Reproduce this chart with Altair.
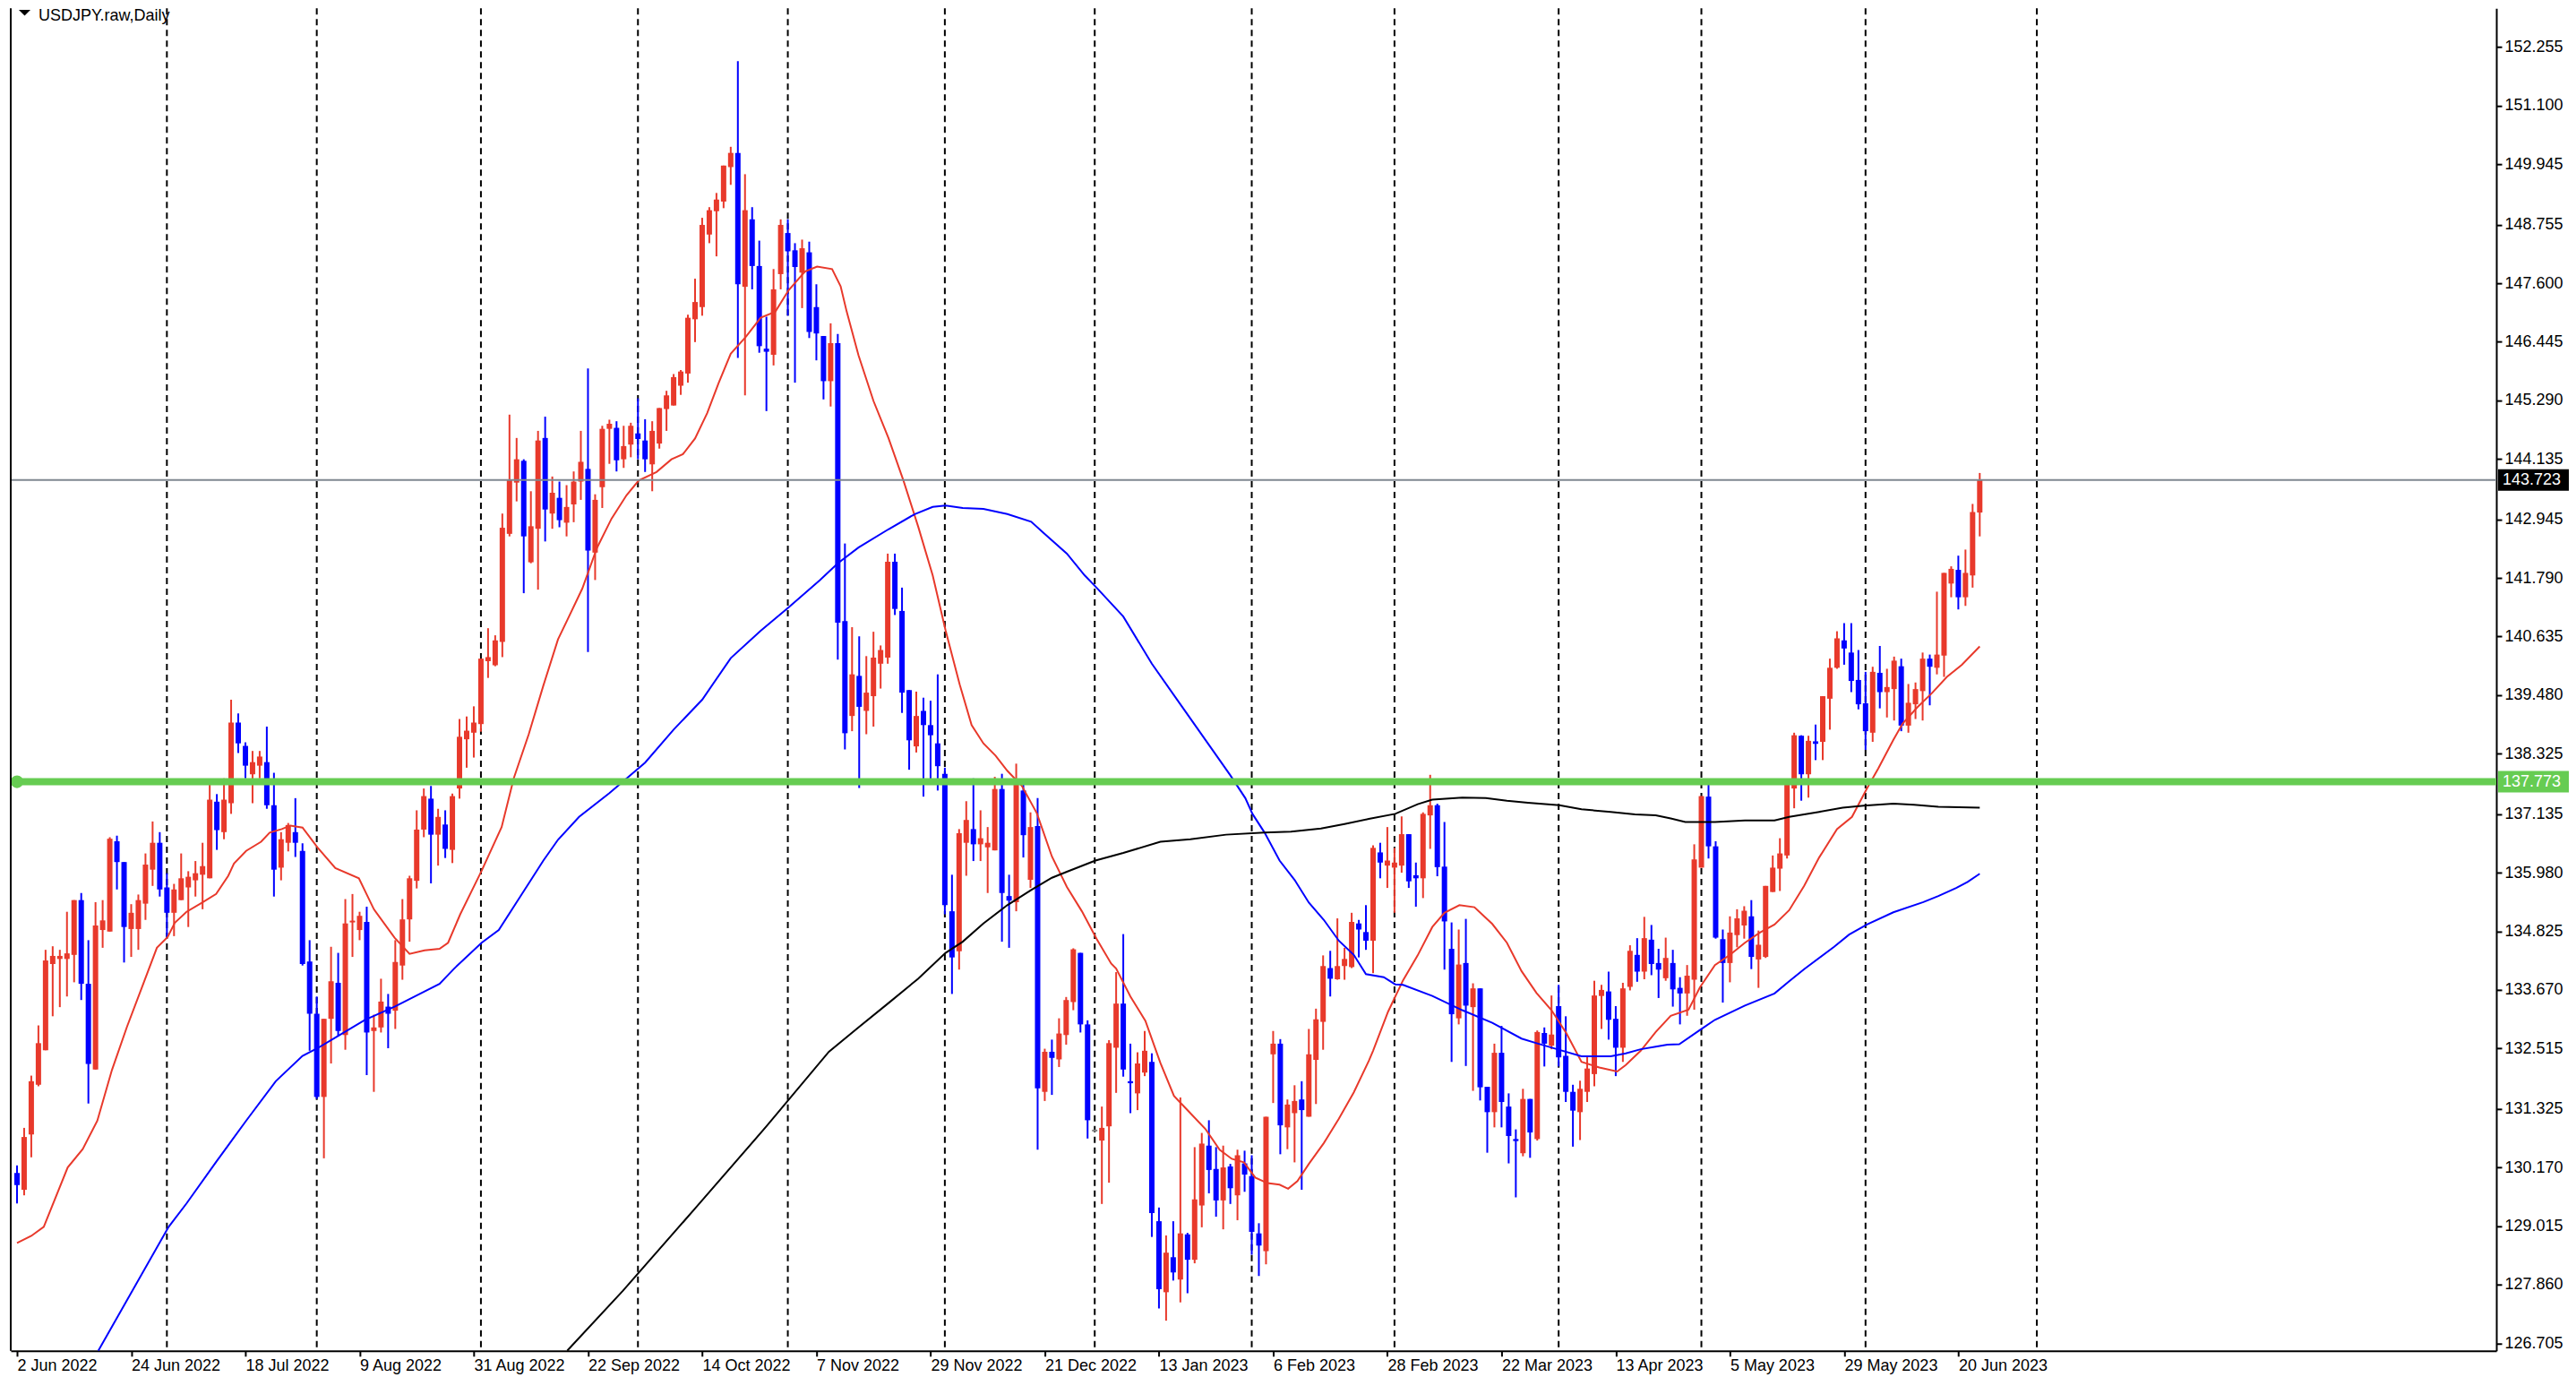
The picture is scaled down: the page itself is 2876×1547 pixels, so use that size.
import altair as alt
import pandas as pd

# ---------------- data ----------------
O = [130.06,129.73,130.82,131.80,132.48,134.18,134.28,134.28,134.36,135.44,
     133.79,132.10,134.85,134.82,136.60,136.19,134.87,134.87,135.37,136.04,
     136.57,135.69,135.19,135.44,135.69,135.83,135.94,135.87,137.38,136.78,
     137.35,138.94,138.48,137.92,138.09,138.16,137.31,136.08,136.57,136.78,
     136.41,134.23,133.20,131.56,133.10,133.81,132.78,135.00,134.85,135.01,
     132.86,132.93,133.34,133.26,134.15,135.06,135.82,136.83,137.44,136.73,
     136.93,136.43,137.64,138.61,138.74,138.91,140.15,140.07,140.53,142.66,
     143.67,144.10,142.10,142.76,144.55,143.06,143.37,142.88,143.24,143.69,
     143.94,142.29,143.58,144.73,144.75,144.13,144.42,144.64,144.50,144.03,
     144.44,145.12,145.19,145.58,145.82,146.89,147.13,148.56,149.02,149.21,
     149.89,150.17,147.53,148.86,147.94,146.31,146.19,147.78,148.59,148.25,
     147.81,148.21,147.13,146.56,145.67,146.42,140.94,139.07,139.86,139.17,
     139.46,140.10,140.22,142.11,141.14,139.58,138.47,139.17,138.89,138.53,
     137.93,135.22,134.43,136.57,136.84,136.54,136.48,136.42,137.63,135.52,
     135.40,137.60,135.84,136.90,131.66,132.45,132.30,132.78,133.43,134.40,
     132.99,130.88,130.70,130.98,132.53,133.40,131.87,131.63,132.04,132.25,
     129.11,127.71,128.40,127.96,128.85,128.35,129.42,130.60,130.14,129.52,
     130.19,129.62,130.25,130.00,128.87,128.52,132.40,132.61,130.96,131.24,
     131.51,131.17,132.29,133.04,134.10,133.88,134.14,134.12,134.98,134.81,
     134.64,136.38,136.12,136.08,136.12,136.74,135.93,135.87,137.11,137.31,
     136.10,134.48,133.11,134.20,133.33,133.70,131.76,131.26,132.43,131.37,
     130.73,130.45,131.52,130.73,132.82,132.57,133.35,132.37,131.66,131.26,
     131.66,132.01,133.55,133.64,133.10,132.53,133.73,134.36,134.03,134.66,
     134.20,133.90,134.20,133.71,133.60,133.87,136.08,137.48,136.50,134.67,
     134.20,134.75,134.94,135.12,134.27,134.32,135.60,136.06,136.32,137.64,
     138.68,137.92,138.57,138.56,139.41,140.02,140.56,140.32,139.78,139.32,
     138.74,139.92,139.54,139.60,140.05,138.88,139.30,139.56,140.20,140.02,
     140.26,141.68,141.95,141.41,141.84,143.08]
H = [130.21,130.95,131.98,132.97,134.46,134.53,134.46,135.21,135.44,135.58,
     134.65,135.40,135.44,136.68,136.71,136.19,135.36,135.55,136.36,136.99,
     136.78,135.97,135.76,136.36,136.01,136.21,136.57,137.74,137.53,137.84,
     139.39,139.12,138.55,138.38,138.38,138.86,137.95,136.78,136.96,137.45,
     136.56,134.65,133.54,133.10,134.52,134.40,135.46,135.56,135.21,135.31,
     133.18,133.89,133.59,134.65,135.46,135.92,137.21,137.64,137.69,137.24,
     137.21,137.54,139.01,139.06,139.26,140.20,140.80,140.66,143.06,145.01,
     144.55,144.13,143.50,144.69,144.97,143.79,143.69,143.62,143.89,144.69,
     145.92,143.44,144.79,144.91,144.88,144.79,144.85,145.33,144.92,144.88,
     145.14,145.48,145.81,145.89,146.98,147.69,148.89,149.10,149.38,149.92,
     150.29,151.98,149.75,149.10,148.44,146.94,147.88,148.86,148.86,148.39,
     148.46,148.42,147.58,146.56,146.81,146.60,142.47,140.82,140.64,140.25,
     140.73,140.46,142.27,142.27,141.60,139.58,139.55,139.43,139.37,139.89,
     138.05,135.94,136.84,137.39,137.84,137.21,136.88,137.87,137.93,135.94,
     138.13,137.77,137.17,137.45,132.51,132.69,133.11,133.53,134.49,134.40,
     133.07,130.88,131.37,132.68,134.02,134.77,132.61,132.44,132.86,132.42,
     129.38,128.83,129.11,131.55,128.88,130.57,130.85,131.10,130.57,130.60,
     130.24,130.52,130.50,130.41,129.07,131.17,132.86,132.70,131.51,131.79,
     131.87,132.90,133.30,134.35,134.44,135.08,134.50,135.19,135.05,135.34,
     136.52,136.57,136.88,136.47,137.09,136.74,136.18,137.17,137.91,137.34,
     136.98,135.00,134.86,135.07,133.80,133.70,131.76,132.61,132.96,131.63,
     130.92,131.72,131.52,132.87,132.93,133.56,133.77,133.15,131.80,131.88,
     132.36,133.85,133.77,134.03,133.35,133.81,134.55,134.69,135.11,134.95,
     134.48,134.70,134.46,133.92,134.16,136.54,137.49,137.76,136.60,134.86,
     135.12,135.26,135.32,135.44,134.84,135.72,136.32,136.66,137.72,138.74,
     138.69,138.68,138.90,139.46,140.20,140.74,140.90,140.90,140.37,139.94,
     140.04,140.45,140.00,140.24,140.20,139.70,139.73,140.32,140.28,141.52,
     141.89,142.02,142.23,142.35,143.25,143.86]
L = [129.46,129.62,130.37,131.77,132.48,133.15,133.33,133.54,133.82,133.47,
     131.43,132.10,134.50,134.82,135.65,134.21,134.32,134.46,135.05,135.72,
     135.51,134.70,134.73,135.44,134.91,135.51,135.26,135.87,136.43,136.64,
     137.14,138.34,137.84,137.35,137.84,137.24,135.51,135.83,136.40,136.29,
     134.15,132.47,131.52,130.35,132.22,132.76,132.49,134.32,134.65,131.99,
     131.66,132.83,132.52,132.90,133.87,134.62,135.67,136.68,135.77,136.12,
     136.27,136.17,137.44,138.05,138.25,138.76,139.82,140.05,140.23,142.61,
     143.30,141.49,142.08,141.56,142.51,142.76,142.79,142.61,142.89,143.33,
     140.33,141.75,143.17,144.04,143.89,143.96,144.17,144.13,143.88,143.50,
     144.34,144.69,145.19,145.40,145.64,146.44,146.96,148.39,148.13,149.08,
     149.54,146.13,145.39,147.48,146.23,145.08,145.98,147.48,146.96,145.64,
     147.11,146.52,146.08,145.31,145.17,140.18,138.41,138.77,137.65,138.71,
     138.86,139.61,140.10,141.06,139.13,138.01,138.35,137.48,137.83,137.60,
     135.16,133.59,134.07,135.92,136.21,136.21,135.58,136.42,134.62,134.50,
     135.22,136.28,135.68,130.52,131.48,131.60,132.15,132.59,133.27,132.83,
     130.74,130.88,129.45,129.87,131.64,131.96,131.24,131.30,131.97,128.80,
     127.39,127.15,127.94,127.51,127.69,128.28,128.99,129.66,129.20,128.95,
     129.45,129.13,129.69,128.45,128.03,128.26,131.44,130.43,130.53,130.27,
     129.73,131.17,131.42,132.49,133.54,133.87,133.87,134.10,134.31,134.46,
     134.00,135.87,135.68,135.19,135.98,135.68,135.31,135.48,136.45,135.91,
     134.07,132.25,132.99,132.17,131.68,131.49,130.46,130.96,130.96,130.25,
     129.58,130.39,130.36,130.70,132.16,132.50,132.16,131.46,130.58,130.71,
     131.46,131.77,132.90,132.69,131.97,132.25,133.66,133.83,133.88,133.96,
     133.51,133.85,133.34,132.99,133.16,133.28,136.08,136.26,134.68,133.42,
     133.82,134.51,134.68,134.08,133.71,134.30,135.60,135.62,136.26,137.25,
     137.40,137.46,138.20,138.20,138.80,140.00,140.08,139.54,139.20,138.40,
     138.56,139.22,139.04,138.98,138.77,138.74,139.01,138.98,139.28,139.89,
     139.84,141.41,141.17,141.24,141.60,142.61]
C = [129.82,130.77,131.87,132.62,134.25,134.34,134.34,134.39,135.44,133.79,
     132.21,134.94,135.04,136.65,136.19,134.91,135.19,135.44,136.14,136.57,
     135.65,135.19,135.65,135.87,135.90,135.97,136.11,137.42,136.82,137.42,
     138.94,138.53,138.09,138.16,138.27,137.31,136.04,136.64,136.92,136.57,
     134.18,133.20,131.56,133.10,133.84,132.86,134.98,135.03,135.13,132.83,
     132.93,133.44,133.20,134.22,135.06,135.87,136.83,137.49,136.73,137.08,
     136.45,137.49,138.66,138.78,138.94,140.20,140.23,140.56,142.78,143.72,
     144.13,142.61,142.81,144.50,143.14,143.47,142.93,143.19,143.69,144.08,
     142.33,143.33,144.73,144.83,144.11,144.39,144.79,144.53,144.13,144.69,
     145.14,145.39,145.75,145.86,146.92,147.23,148.75,149.04,149.25,149.92,
     150.17,147.58,149.04,147.94,146.36,146.25,147.48,148.75,148.23,147.92,
     148.29,146.64,146.61,145.67,146.42,140.91,138.73,139.89,139.25,139.53,
     140.22,140.37,142.11,141.18,139.53,138.59,139.07,138.89,138.69,138.08,
     135.34,134.31,136.76,137.02,136.54,136.66,136.57,137.63,135.58,135.43,
     137.75,136.72,136.88,131.73,132.45,132.33,132.81,133.47,134.47,132.99,
     131.10,130.88,130.95,132.62,133.40,132.10,131.83,132.22,132.47,129.27,
     127.77,128.49,128.10,128.87,128.35,129.54,130.64,130.12,129.52,130.17,
     129.76,130.41,130.03,128.90,128.63,131.17,132.61,131.00,131.41,131.48,
     131.30,132.40,133.09,134.14,133.89,134.14,134.28,135.01,134.86,134.64,
     136.47,136.18,136.22,136.18,136.74,135.81,135.87,137.14,137.31,136.09,
     135.02,133.19,134.17,133.36,133.70,131.75,131.26,132.43,131.46,130.79,
     130.69,131.52,130.86,132.84,132.61,132.79,132.34,131.66,131.29,131.72,
     132.12,133.56,133.67,133.08,132.53,133.70,134.44,134.03,134.69,134.18,
     134.07,134.30,133.68,133.60,133.95,136.24,137.49,136.50,134.70,134.20,
     134.80,135.08,135.23,134.32,134.56,135.72,136.08,136.36,137.72,138.69,
     137.92,138.58,138.52,139.46,140.02,140.60,140.40,139.76,139.30,138.77,
     139.94,139.54,139.64,140.16,138.88,139.33,139.60,140.20,140.04,140.28,
     141.89,141.97,141.41,141.89,143.09,143.72]

# moving averages read as (bar index, price) points
red_ma_i = [0,2,3.75,7.1,9.2,11.25,13.3,15.4,17.5,19.6,21.1,22.1,23.75,25.8,27.9,29.6,30.4,32.1,34.2,35.4,37.1,38.3,40,
            42.1,44.6,47.9,50,52.9,55,57.1,59.2,60.4,62.1,65.1,67.9,69.6,71.7,73.75,75.8,77.1,79.2,81.25,83.3,85.4,87.1,
            89.6,91.7,93.3,95,96.7,98.3,100,102.1,104.2,106.25,108.1,110.4,112.1,114.2,115.4,116.25,117.9,120,122.1,
            124.2,126.25,128.3,130.1,132.1,133.75,135.4,137.1,138.75,140.8,142.9,145,147.1,149.2,151.25,153.3,154,156,
            158.1,160.2,162.1,164.4,166.5,168.5,170.2,171.9,173.5,175.2,176.9,178.1,179.4,181.0,183.1,185.2,187.3,189.4,
            190,192.1,194.2,196.25,198.3,200,202.1,204.2,206.7,208.75,210.8,212.9,215,217.1,219.2,221.7,224.2,225.4,
            227.5,229.6,231.7,234.2,235.8,237.9,240,242.1,244.2,246.25,248.3,250.4,252.5,255,257.1,259.2,260.8,262.9,
            264.2,266.25,268.3,270.4,272.5,275]
red_ma_v = [128.68,128.82,129.0,130.17,130.53,131.09,132.09,132.94,133.72,134.50,134.71,134.99,135.21,135.38,135.56,135.92,
            136.16,136.41,136.59,136.77,136.84,136.91,136.87,136.48,136.07,135.87,135.26,134.70,134.38,134.45,134.48,134.60,
            135.16,136.02,136.88,137.84,138.71,139.67,140.58,140.96,141.58,142.38,142.96,143.42,143.71,143.88,144.13,144.23,
            144.54,145.04,145.63,146.21,146.54,146.92,147.04,147.46,147.83,147.93,147.88,147.54,147.04,146.18,145.28,144.55,
            143.71,142.81,141.84,140.76,139.68,138.89,138.53,138.29,137.99,137.69,137.15,136.30,135.70,135.22,134.68,134.19,
            134.09,133.54,133.06,132.23,131.58,131.24,130.93,130.52,130.34,130.27,129.97,129.86,129.83,129.75,129.90,130.24,
            130.65,131.13,131.65,132.27,132.47,133.24,133.86,134.35,134.91,135.19,135.34,135.30,134.97,134.60,134.04,133.61,
            133.27,132.81,132.25,132.14,132.06,132.19,132.47,132.84,133.16,133.28,133.72,134.16,134.36,134.60,134.80,134.96,
            135.24,135.72,136.28,136.84,137.08,137.64,138.04,138.60,138.92,139.24,139.52,139.84,140.08,140.44]
blue_ma_i = [11.4,21.25,23.75,27.9,32.1,36.25,40,42.1,44.6,48.75,52.9,57.1,59.2,61.25,65.1,67.5,69.6,71.7,73.75,75.8,78.75,
             83,88,92,96,100,104.2,108.1,112.5,115,117.9,122.1,125.8,128.3,130.1,132.5,135.4,138.75,142.1,143.75,147.1,
             149.6,151.25,155,159,163,167,170,172.1,173.1,174.8,176.9,179,181,183.1,185.2,187.3,189,191.5,193.1,194.2,
             198.3,202.5,206.7,210.8,212.9,215.8,219.2,223.3,225.4,227.5,229.6,231.25,232.9,235.8,237.9,242.1,246.25,
             248.3,250.4,254.6,256.7,259.2,262.9,267.1,269.2,271.7,273.3,275]
blue_ma_v = [126.56,129.0,129.46,130.28,131.09,131.87,132.37,132.52,132.73,133.08,133.34,133.64,133.79,134.09,134.60,134.85,
             135.31,135.77,136.22,136.63,137.08,137.55,138.15,138.80,139.39,140.21,140.75,141.21,141.75,142.08,142.39,142.75,
             143.05,143.19,143.22,143.17,143.15,143.05,142.90,142.69,142.27,141.84,141.60,141.03,140.10,139.30,138.50,137.90,
             137.45,137.14,136.77,136.22,135.84,135.39,135.05,134.64,134.36,133.98,133.92,133.78,133.77,133.55,133.27,133.02,
             132.71,132.62,132.50,132.36,132.36,132.42,132.50,132.55,132.59,132.60,132.88,133.08,133.36,133.60,133.84,134.08,
             134.52,134.76,134.96,135.20,135.40,135.52,135.68,135.80,135.96]
black_ma_i = [77.1,84.9,95,105,113.75,117.9,122.1,126.25,130.1,132.5,135.4,138.75,142.1,145,147.1,151.1,155,160.2,164.4,
              169.4,174.8,178.5,182.7,186,189.4,193.1,196.25,198.3,202.5,205.8,208.75,211.7,216.1,219.2,223.3,226.7,229.6,
              231.7,233.75,237.9,242.1,246.25,248.3,252.5,255.8,258.75,262.9,265.8,269.2,275]
black_ma_v = [126.56,127.74,129.36,130.98,132.45,132.93,133.41,133.89,134.40,134.62,134.98,135.34,135.64,135.88,136.00,
              136.22,136.37,136.59,136.64,136.73,136.77,136.79,136.85,136.94,137.04,137.14,137.33,137.42,137.46,137.45,
              137.40,137.36,137.31,137.23,137.18,137.13,137.11,137.05,136.98,136.98,137.01,137.01,137.08,137.18,137.26,
              137.30,137.34,137.32,137.28,137.26]

month_starts = [21, 42, 65, 87, 108, 130, 151, 173, 193, 216, 236, 259, 283]
date_labels = ["2 Jun 2022", "24 Jun 2022", "18 Jul 2022", "9 Aug 2022", "31 Aug 2022", "22 Sep 2022",
               "14 Oct 2022", "7 Nov 2022", "29 Nov 2022", "21 Dec 2022", "13 Jan 2023", "6 Feb 2023",
               "28 Feb 2023", "22 Mar 2023", "13 Apr 2023", "5 May 2023", "29 May 2023", "20 Jun 2023"]
price_ticks = [152.255, 151.100, 149.945, 148.755, 147.600, 146.445, 145.290, 144.135, 142.945, 141.790,
               140.635, 139.480, 138.325, 137.135, 135.980, 134.825, 133.670, 132.515, 131.325, 130.170,
               129.015, 127.860, 126.705]
bid_price = 143.723
level_price = 137.773
title_text = "USDJPY.raw,Daily"

# ---------------- styling ----------------
RED = "#E8392B"
BLUE = "#0000FF"
GREEN = "#66CC52"
FONT = "Liberation Sans"
W, Hh = 2776, 1499

rows = []
for i in range(len(O)):
    o, h, l, c = O[i], H[i], L[i], C[i]
    d = "up" if c > o else ("down" if c < o else "flat")
    c2 = c if abs(c - o) >= 0.035 else o + 0.035
    rows.append(dict(i=i, o=o, h=h, l=l, c=c, c2=c2, d=d))
df = pd.DataFrame(rows)

xs = alt.Scale(domain=[-0.25, 346.75], nice=False, zero=False)
ys = alt.Scale(domain=[126.555, 153.02], nice=False, zero=False)
col = alt.Color("d:N", scale=alt.Scale(domain=["up", "down", "flat"], range=[RED, BLUE, "#808080"]), legend=None)

labels_js = "[" + ",".join("'%s'" % s for s in date_labels) + "]"
x_axis = alt.Axis(title=None, values=[16 * k for k in range(len(date_labels))],
                  labelExpr=labels_js + "[round(datum.value/16)]", labelAlign="left", labelBaseline="top",
                  labelPadding=2, labelOverlap=False, labelFlush=False, tickSize=6, grid=False)
y_axis = alt.Axis(title=None, orient="right", values=price_ticks, format=".3f", labelOverlap=False,
                  labelPadding=3, tickSize=6, grid=False, labelFlush=False)

def X(f):
    return alt.X(f, scale=xs, axis=x_axis, title=None)

def Y(f):
    return alt.Y(f, scale=ys, axis=y_axis, title=None)

grid = alt.Chart(pd.DataFrame({"i": month_starts})).mark_rule(
    color="black", strokeWidth=2, strokeDash=[7, 5]).encode(x=X("i:Q"))

wicks = alt.Chart(df).mark_rule(strokeWidth=2).encode(x=X("i:Q"), y=Y("l:Q"), y2="h:Q", color=col)
bodies = alt.Chart(df).mark_bar(size=6).encode(x=X("i:Q"), y=Y("o:Q"), y2="c2:Q", color=col)

def ma(ii, vv, color):
    return alt.Chart(pd.DataFrame({"i": ii, "l": vv})).mark_line(color=color, strokeWidth=2).encode(
        x=X("i:Q"), y=Y("l:Q"))

red_ma = ma(red_ma_i, red_ma_v, RED)
blue_ma = ma(blue_ma_i, blue_ma_v, BLUE)
black_ma = ma(black_ma_i, black_ma_v, "black")

hl = pd.DataFrame({"l": [bid_price, level_price], "lbl": ["%.3f" % bid_price, "%.3f" % level_price],
                   "bg": ["#000000", GREEN], "w": [2, 8], "lc": ["#7F8790", GREEN]})
hlines = alt.Chart(hl).mark_rule().encode(
    y=Y("l:Q"), color=alt.Color("lc:N", scale=None), strokeWidth=alt.StrokeWidth("w:Q", scale=None))
anchor = alt.Chart(hl[hl.l == level_price]).mark_point(filled=True, size=200, opacity=1, shape="circle").encode(
    x=alt.value(7), y=Y("l:Q"), color=alt.value(GREEN))
boxes = alt.Chart(hl).transform_calculate(top="datum.l + 0.212", bot="datum.l - 0.212").mark_rect().encode(
    x=alt.value(W + 2), x2=alt.value(W + 81),
    y=Y("top:Q"), y2="bot:Q", color=alt.Color("bg:N", scale=None))
box_txt = alt.Chart(hl).mark_text(align="left", baseline="middle", font=FONT, fontSize=18, color="white").encode(
    x=alt.value(W + 7), y=Y("l:Q"), text="lbl:N")

left_border = alt.Chart(pd.DataFrame({"a": [0]})).mark_rule(color="black", strokeWidth=2).encode(
    x=alt.value(0), y=alt.value(0), y2=alt.value(Hh))
tri = alt.Chart(pd.DataFrame({"a": [0]})).mark_point(
    shape="M-1,-0.5L1,-0.5L0,0.5Z", filled=True, size=169, color="black", opacity=1).encode(
    x=alt.value(15.5), y=alt.value(5))
title = alt.Chart(pd.DataFrame({"t": [title_text]})).mark_text(
    align="left", baseline="top", font=FONT, fontSize=18, color="black").encode(
    x=alt.value(31), y=alt.value(0), text="t:N")

chart = alt.layer(grid, wicks, bodies, red_ma, blue_ma, black_ma, hlines, anchor, boxes, box_txt,
                  left_border, tri, title).properties(
    width=W, height=Hh, padding=0, background="white"
).configure_view(stroke=None).configure_axis(
    labelFont=FONT, labelFontSize=18, labelColor="black", domainColor="black", domainWidth=2,
    tickColor="black", tickWidth=2, grid=False)

chart.save("out.html", embed_options={"renderer": "svg", "actions": False})
